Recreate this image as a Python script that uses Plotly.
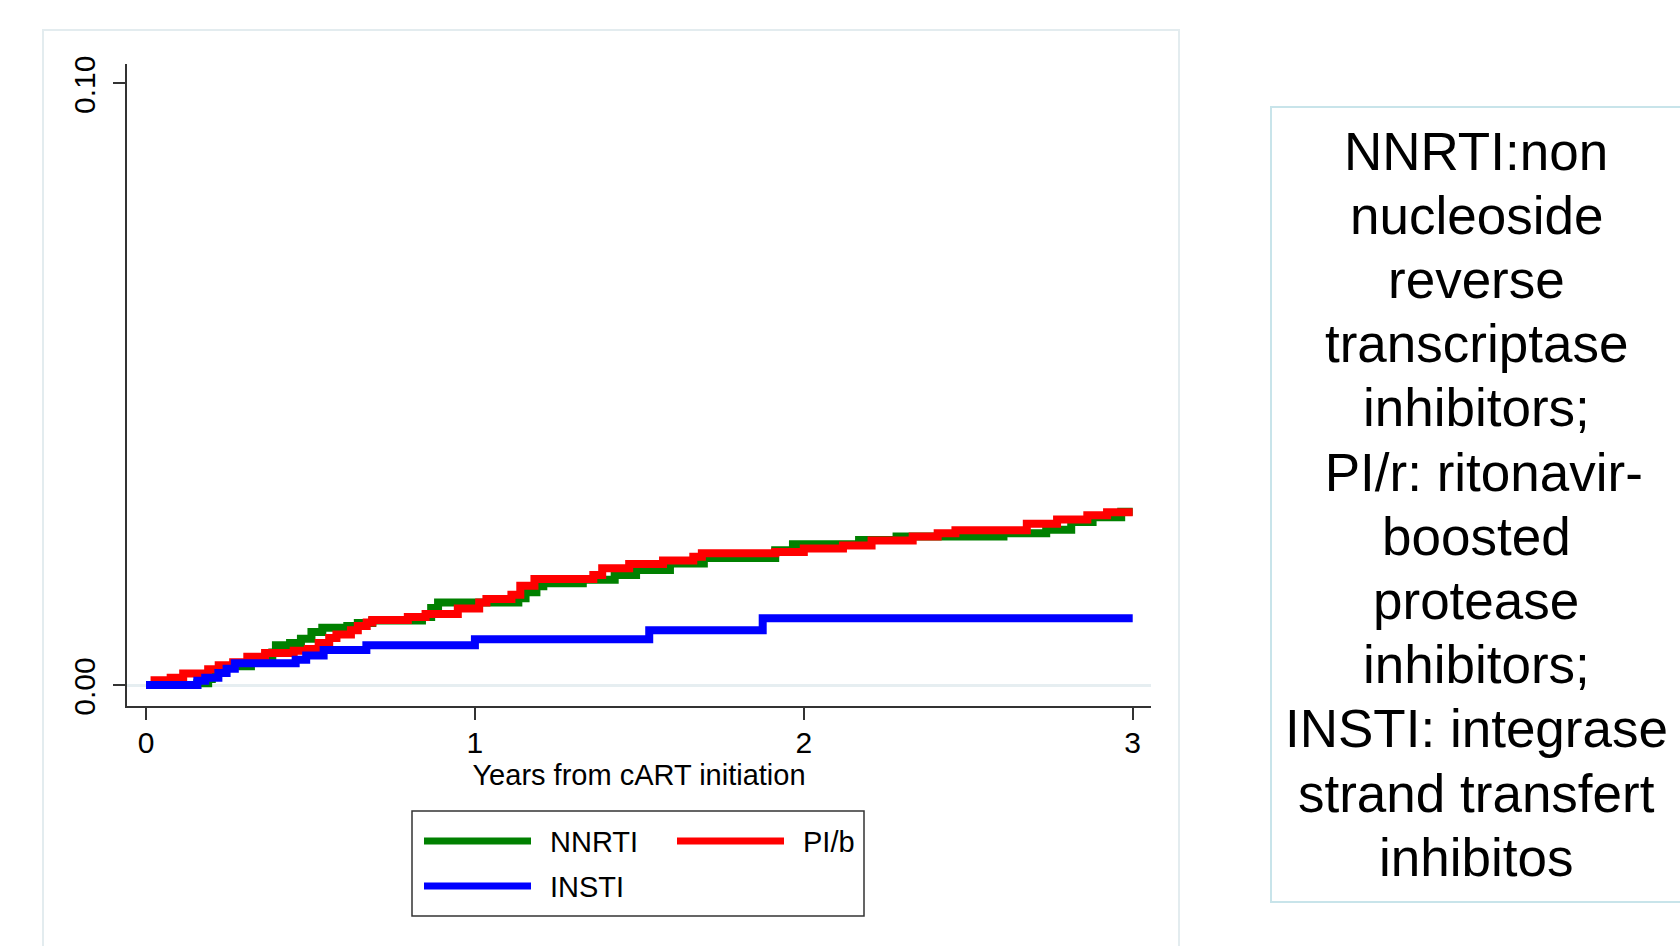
import plotly.graph_objects as go

# ---------------- data ----------------
series_names = ["NNRTI", "PI/b", "INSTI"]
series_colors = ["#008000", "#ff0000", "#0000ff"]

nnrti_t = [0, .156, .189, .2, .238, .319, .384, .395, .438, .471,
           .503, .536, .612, .644, .688, .839, .867, .888, 1.132, 1.154,
           1.187, 1.208, 1.328, 1.425, 1.49, 1.593, 1.696, 1.913, 1.967, 2.168,
           2.282, 2.607, 2.737, 2.813, 2.878, 2.965, 3.0]
nnrti_v = [0, .0003, .001, .0024, .0031, .0037, .0054, .0066, .007, .0077,
           .0088, .0095, .0098, .0103, .0107, .0113, .0128, .0137, .0144, .0154,
           .0164, .0169, .0175, .0183, .0191, .0202, .0211, .0224, .0234, .0241,
           .0247, .0252, .0258, .0271, .0279, .0288, .0288]

pib_t = [0, .026, .075, .113, .189, .221, .265, .308, .362, .449,
         .492, .525, .557, .579, .623, .644, .671, .688, .796, .85,
         .948, 1.013, 1.035, 1.111, 1.138, 1.181, 1.36, 1.387, 1.469, 1.572,
         1.664, 1.69, 1.913, 2.0, 2.119, 2.206, 2.331, 2.407, 2.461, 2.678,
         2.77, 2.862, 2.922, 3.0]
pib_v = [0, .0008, .0012, .0019, .0026, .0033, .0038, .0047, .0053, .0057,
         .006, .007, .0078, .0084, .0091, .0098, .0104, .0108, .0113, .0118,
         .0127, .0137, .0143, .015, .0165, .0176, .0183, .0194, .0201, .0207,
         .0213, .0219, .0221, .0227, .0232, .024, .0247, .0252, .0257, .0268,
         .0275, .0282, .0287, .0287]

insti_t = [0, .156, .18, .22, .245, .27, .455, .487, .54, .67, 1.0, 1.53, 1.875, 3.0]
insti_v = [0, .0007, .0012, .002, .0027, .0036, .0042, .0049, .0058, .0066, .0076, .0091, .0111, .0111]

x_tickvals = [0, 1, 2, 3]
x_ticktext = ["0", "1", "2", "3"]
y_tickvals = [0, 0.1]
y_ticktext = ["0.00", "0.10"]
x_title = "Years from cART initiation"

note_lines = ["NNRTI:non", "nucleoside", "reverse", "transcriptase", "inhibitors;",
              "\u00a0PI/r: ritonavir-", "boosted", "protease", "inhibitors;",
              "INSTI: integrase", "strand transfert", "inhibitos"]

# ---------------- layout helpers (pixel -> paper) ----------------
W, H = 1680, 946
def fx(p):
    return p / W
def fy(p):
    return 1 - p / H

FONT = "Liberation Sans, Arial, Helvetica, sans-serif"

fig = go.Figure()
for t, v, name, col in [(nnrti_t, nnrti_v, series_names[0], series_colors[0]),
                        (pib_t, pib_v, series_names[1], series_colors[1]),
                        (insti_t, insti_v, series_names[2], series_colors[2])]:
    fig.add_trace(go.Scatter(x=t, y=v, mode="lines", name=name,
                             line=dict(color=col, width=8, shape="hv"),
                             showlegend=False))

shapes = []
annotations = []

# outer panel frame
shapes.append(dict(type="rect", xref="paper", yref="paper", x0=fx(43), y0=fy(30), x1=fx(1179), y1=fy(990),
                   line=dict(color="#e3ecef", width=2), layer="below"))
# right note box
shapes.append(dict(type="rect", xref="paper", yref="paper", x0=fx(1271), y0=fy(107), x1=fx(1720), y1=fy(902),
                   line=dict(color="#c8e4ea", width=2), layer="below"))
# legend box
shapes.append(dict(type="rect", xref="paper", yref="paper", x0=fx(412), y0=fy(811), x1=fx(864), y1=fy(916),
                   line=dict(color="#333333", width=1.5)))

legend_pos = [(424, 841), (677, 841), (424, 886)]
for (lx, ly), name, col in zip(legend_pos, series_names, series_colors):
    shapes.append(dict(type="line", xref="paper", yref="paper", x0=fx(lx), x1=fx(lx + 107), y0=fy(ly), y1=fy(ly),
                       line=dict(color=col, width=7)))
    annotations.append(dict(xref="paper", yref="paper", x=fx(lx + 124), y=fy(ly + 1), text=name, showarrow=False,
                            xanchor="left", yanchor="middle", font=dict(size=29, color="black", family=FONT)))

line_y0, line_dy = 151, 64.2
for i, s in enumerate(note_lines):
    annotations.append(dict(xref="paper", yref="paper", x=fx(1476), y=fy(line_y0 + i * line_dy), text=s,
                            showarrow=False, xanchor="center", yanchor="middle",
                            font=dict(size=53, color="black", family=FONT)))

fig.update_layout(
    width=W, height=H,
    margin=dict(l=0, r=0, t=0, b=0, autoexpand=False),
    paper_bgcolor="white", plot_bgcolor="white",
    font=dict(family=FONT, color="black"),
    shapes=shapes, annotations=annotations,
    xaxis=dict(domain=[fx(127), fx(1151)], range=[-0.0578, 3.0556], automargin=False,
               tickvals=x_tickvals, ticktext=x_ticktext,
               ticks="outside", ticklen=12, tickwidth=1.5, tickcolor="#333333",
               showline=True, linecolor="#333333", linewidth=1.5,
               showgrid=False, zeroline=False,
               tickfont=dict(size=30, color="black"), ticklabelstandoff=-3,
               title=dict(text=x_title, font=dict(size=29, color="black"), standoff=6)),
    yaxis=dict(domain=[fy(706), fy(64)], range=[-21 / 6017, 621 / 6017], automargin=False,
               tickvals=y_tickvals, ticktext=y_ticktext, tickangle=-90,
               ticks="outside", ticklen=12, tickwidth=1.5, tickcolor="#333333",
               showline=True, linecolor="#333333", linewidth=1.5,
               showgrid=False, zeroline=True, zerolinecolor="#e6eef1", zerolinewidth=3,
               tickfont=dict(size=30, color="black"), ticklabelstandoff=6, ticklabelshift=6),
)

fig.write_html("out.html", config={"displayModeBar": False},
               post_script="document.body.style.margin='0px';document.body.style.overflow='hidden';")
